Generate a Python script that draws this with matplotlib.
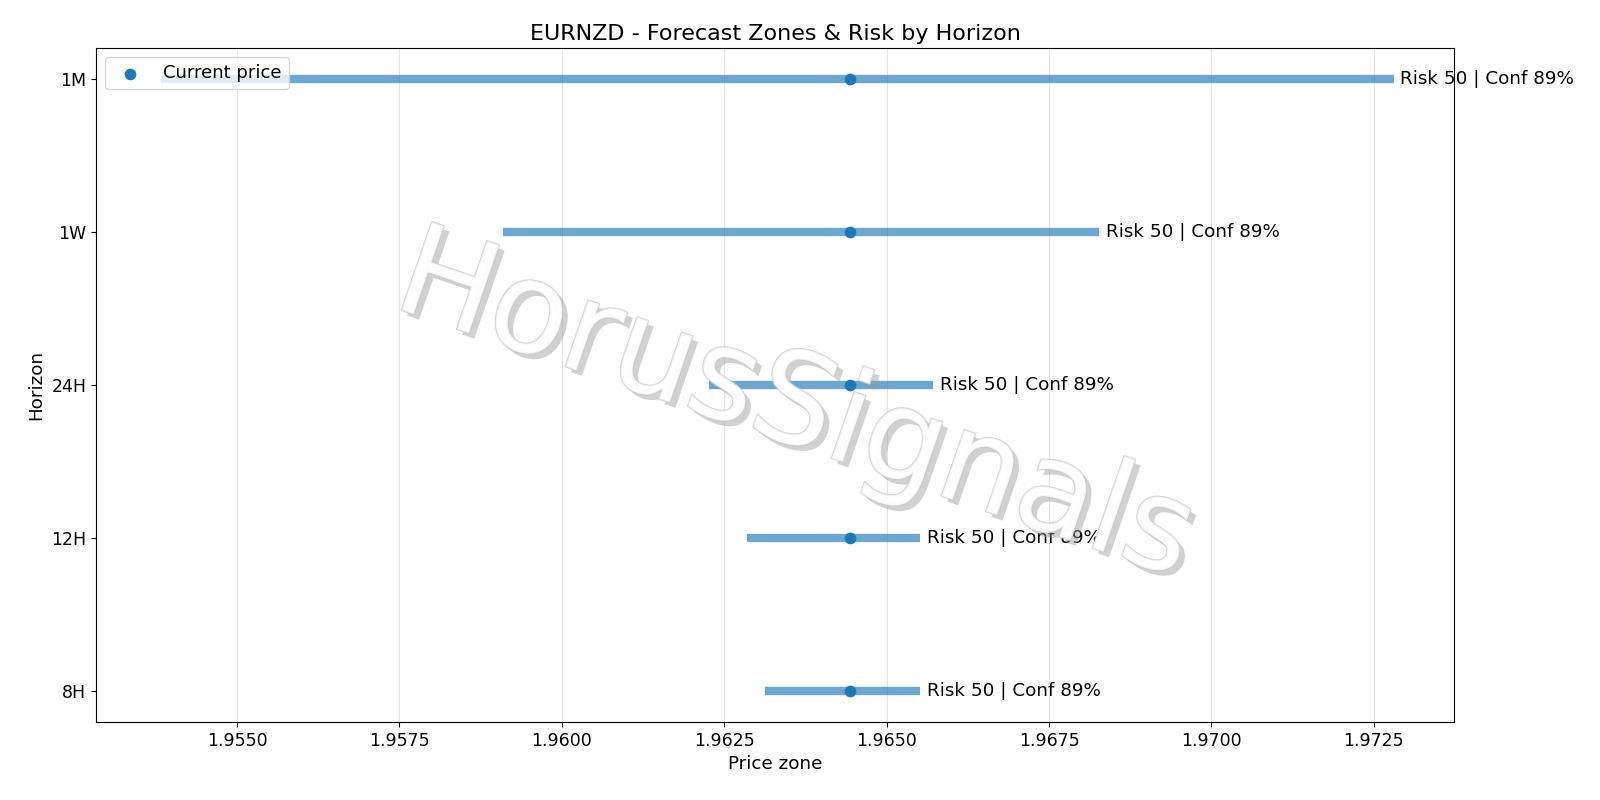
import matplotlib
matplotlib.use("Agg")
import matplotlib.pyplot as plt
import matplotlib.patheffects as pe

horizons = ["8H", "12H", "24H", "1W", "1M"]
lows = [1.96313, 1.96285, 1.96226, 1.95909, 1.95383]
highs = [1.96552, 1.96552, 1.96572, 1.96827, 1.97281]
current = 1.96443
risk = [50, 50, 50, 50, 50]
conf = [89, 89, 89, 89, 89]

fig, ax = plt.subplots(figsize=(16, 8), dpi=100)
fig.subplots_adjust(left=0.06, right=0.909, top=0.94, bottom=0.115 - 0.0175)
ys = list(range(len(horizons)))
for y, lo, hi, r, c in zip(ys, lows, highs, risk, conf):
    ax.hlines(y, lo, hi, linewidth=6, color="#1f77b4", alpha=0.65)
    ax.text(hi + 0.0001, y, f"Risk {r} | Conf {c}%", va="center", fontsize=13.2)
ax.scatter([current] * len(ys), ys, color="#1f77b4", s=55, zorder=3, label="Current price")
ax.set_yticks(ys)
ax.set_yticklabels(horizons)
ax.set_xlim(1.95283, 1.97374)
ax.set_ylim(-0.2, 4.2)
ax.grid(axis="x", alpha=0.35)
ax.tick_params(labelsize=12.5)
ax.set_xlabel("Price zone", fontsize=13.2)
ax.set_ylabel("Horizon", fontsize=13.2)
ax.set_title("EURNZD - Forecast Zones & Risk by Horizon", fontsize=16)
ax.legend(loc="upper left", fontsize=13)
fig.text(0.497, 0.49, "HorusSignals", fontsize=92, color="white", rotation=-19,
         ha="center", va="center", alpha=0.75,
         path_effects=[pe.withSimplePatchShadow(offset=(4, -4), shadow_rgbFace="#999999", alpha=0.45),
                       pe.Stroke(linewidth=1.5, foreground="#c8c8c8"), pe.Normal()])
fig.savefig("out.png")
